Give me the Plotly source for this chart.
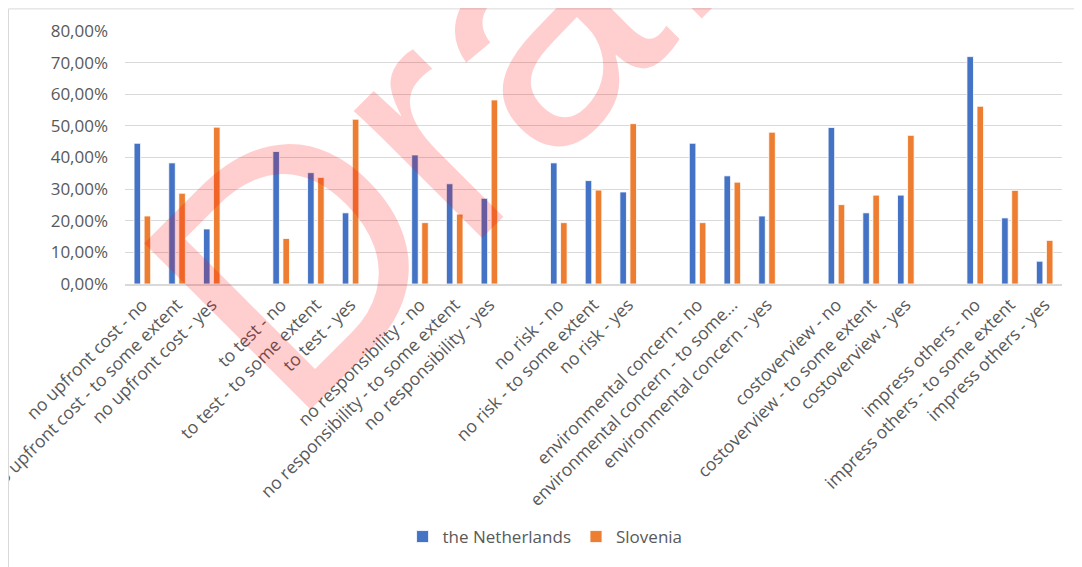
import plotly.graph_objects as go

# blank entries are the empty slots Excel leaves between question groups
categories = [
    "no upfront cost - no", "no upfront cost - to some extent", "no upfront cost - yes", " ",
    "to test - no", "to test - to some extent", "to test - yes", "  ",
    "no responsibility - no", "no responsibility - to some extent", "no responsibility - yes", "   ",
    "no risk - no", "no risk - to some extent", "no risk - yes", "    ",
    "environmental concern - no", "environmental concern - to some...", "environmental concern - yes", "     ",
    "costoverview - no", "costoverview - to some extent", "costoverview - yes", "      ",
    "impress others - no", "impress others - to some extent", "impress others - yes",
]

netherlands = [
    0.445, 0.383, 0.174, None,
    0.419, 0.352, 0.225, None,
    0.408, 0.317, 0.271, None,
    0.383, 0.327, 0.291, None,
    0.445, 0.342, 0.215, None,
    0.495, 0.225, 0.281, None,
    0.719, 0.209, 0.072,
]

slovenia = [
    0.215, 0.287, 0.496, None,
    0.144, 0.337, 0.521, None,
    0.194, 0.221, 0.582, None,
    0.194, 0.297, 0.507, None,
    0.194, 0.322, 0.480, None,
    0.251, 0.281, 0.470, None,
    0.562, 0.296, 0.138,
]

font_family = "Open Sans"
text_grey = "#595959"
grid_grey = "#D9D9D9"

fig = go.Figure()
fig.add_trace(go.Bar(
    x=categories, y=netherlands, name="the Netherlands",
    marker=dict(color="#4472C4", line=dict(color="white", width=0.8)),
))
fig.add_trace(go.Bar(
    x=categories, y=slovenia, name="Slovenia",
    marker=dict(color="#ED7D31", line=dict(color="white", width=0.8)),
))

# the page body keeps its default 8px margin, so the figure is 8px smaller
fig.update_layout(
    width=1074,
    height=559,
    margin=dict(l=117, r=20, t=23, b=279),
    paper_bgcolor="white",
    plot_bgcolor="white",
    barmode="group",
    bargap=0.42,
    bargroupgap=0.35,
    separators=",.",
    font=dict(family=font_family, size=17, color=text_grey),
    xaxis=dict(
        type="category",
        tickangle=-45,
        showgrid=False,
        showline=True,
        linecolor=grid_grey,
        linewidth=1.5,
        automargin=False,
        ticklabelstandoff=2,
        tickfont=dict(size=17.5, color=text_grey),
    ),
    yaxis=dict(
        range=[0, 0.8],
        dtick=0.1,
        tickformat=".2%",
        gridcolor=grid_grey,
        gridwidth=1.3,
        zeroline=False,
        showline=False,
        automargin=False,
        ticklabelstandoff=16,
        tickfont=dict(size=17, color=text_grey),
    ),
    legend=dict(
        orientation="h",
        x=0.4483,
        xanchor="center",
        y=-1.0,
        yanchor="middle",
        font=dict(size=17, color=text_grey),
    ),
    shapes=[
        # chart-area border (left and top edges visible)
        dict(type="rect", xref="paper", yref="paper", x0=-0.1243, x1=1.2, y0=-1.5, y1=1.0875,
             line=dict(color=grid_grey, width=1), fillcolor="rgba(0,0,0,0)", layer="above"),
    ],
    annotations=[
        dict(text="Draft", xref="paper", yref="paper", x=0.367, y=0.794,
             xanchor="center", yanchor="middle", textangle=-45, showarrow=False,
             font=dict(family="Liberation Sans", size=342, color="rgba(255,0,0,0.19)")),
    ],
)

fig.write_html("out.html")
